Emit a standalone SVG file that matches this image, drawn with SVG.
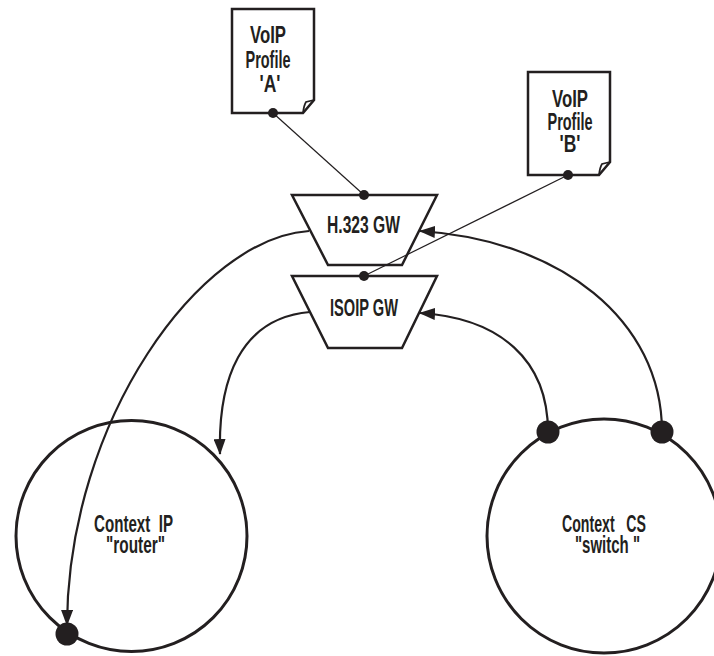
<svg xmlns="http://www.w3.org/2000/svg" width="714" height="656" viewBox="0 0 714 656">
  <style>
    .bg { fill: #ffffff; }
    .doc { fill: #ffffff; stroke: #231f20; stroke-width: 2.5; stroke-linejoin: miter; }
    .fold { fill: none; stroke: #231f20; stroke-width: 1.8; }
    .gw { fill: #ffffff; stroke: #231f20; stroke-width: 2.5; stroke-linejoin: miter; }
    .ctx { fill: none; stroke: #231f20; stroke-width: 3; }
    .link { fill: none; stroke: #231f20; stroke-width: 1.2; }
    .flow { fill: none; stroke: #231f20; stroke-width: 2.2; marker-end: url(#arrow); }
    .dot { fill: #231f20; }
    text { font-family: "Liberation Sans", Arial, sans-serif; font-size: 23px; font-weight: bold; fill: #231f20; text-anchor: middle; }
  </style>
  <defs>
    <marker id="arrow" viewBox="0 0 16 12" refX="15" refY="6" markerWidth="16" markerHeight="12" markerUnits="userSpaceOnUse" orient="auto">
      <path d="M0,0 L16,6 L0,12 Z" fill="#231f20"/>
    </marker>
  </defs>

  <rect class="bg" x="0" y="0" width="714" height="656"/>

  <!-- context circles -->
  <g id="context-ip">
    <circle class="ctx" cx="131.5" cy="536" r="115.5"/>
    <text x="133.5" y="532" textLength="79" lengthAdjust="spacingAndGlyphs" xml:space="preserve">Context  IP</text>
    <text x="135.5" y="553" textLength="59" lengthAdjust="spacingAndGlyphs">"router"</text>
  </g>

  <g id="context-cs">
    <circle class="ctx" cx="604" cy="536" r="117"/>
    <text x="604" y="532" textLength="84" lengthAdjust="spacingAndGlyphs" xml:space="preserve">Context   CS</text>
    <text x="607.5" y="553" textLength="65" lengthAdjust="spacingAndGlyphs" xml:space="preserve">"switch "</text>
  </g>

  <!-- gateways -->
  <g id="gw-h323">
    <path class="gw" d="M292,195 H437 L402,265 H328 Z"/>
    <text x="363.5" y="233" textLength="73" lengthAdjust="spacingAndGlyphs">H.323 GW</text>
  </g>

  <g id="gw-isoip">
    <path class="gw" d="M292,276 H437 L402,348 H328 Z"/>
    <text x="364" y="316" textLength="68" lengthAdjust="spacingAndGlyphs">ISOIP GW</text>
  </g>

  <!-- profile documents -->
  <g id="profile-a">
    <path class="doc" d="M232,9 H314 V100 L303,113 H232 Z"/>
    <path class="fold" d="M303,113 Q304,105 306,102 L314,100"/>
    <text x="268" y="43" textLength="36" lengthAdjust="spacingAndGlyphs">VoIP</text>
    <text x="268" y="68" textLength="45" lengthAdjust="spacingAndGlyphs">Profile</text>
    <text x="270" y="92" textLength="21" lengthAdjust="spacingAndGlyphs">'A'</text>
  </g>

  <g id="profile-b">
    <path class="doc" d="M528,72 H610 V162 L599,175 H528 Z"/>
    <path class="fold" d="M599,175 Q600,167 602,164 L610,162"/>
    <text x="570" y="107" textLength="36" lengthAdjust="spacingAndGlyphs">VoIP</text>
    <text x="570" y="130" textLength="45" lengthAdjust="spacingAndGlyphs">Profile</text>
    <text x="570" y="152" textLength="21" lengthAdjust="spacingAndGlyphs">'B'</text>
  </g>

  <!-- connectors -->
  <g id="connectors">
    <line class="link" x1="273" y1="113" x2="364" y2="195"/>
    <line class="link" x1="568" y1="175" x2="364" y2="276"/>
    <path class="flow" d="M309,231 C200,238 68,420 67,625"/>
    <path class="flow" d="M310,312 C240,318 218,380 220,454"/>
    <path class="flow" d="M662,432 C662,320 560,240 420,231"/>
    <path class="flow" d="M548,432 C548,360 500,318 420,313"/>
    <circle class="dot" cx="273" cy="113" r="5"/>
    <circle class="dot" cx="364" cy="195" r="5"/>
    <circle class="dot" cx="568" cy="175" r="5"/>
    <circle class="dot" cx="364" cy="276" r="5"/>
    <circle class="dot" cx="67" cy="634" r="11.5"/>
    <circle class="dot" cx="548" cy="432" r="11.5"/>
    <circle class="dot" cx="662" cy="432" r="11.5"/>
  </g>
</svg>
